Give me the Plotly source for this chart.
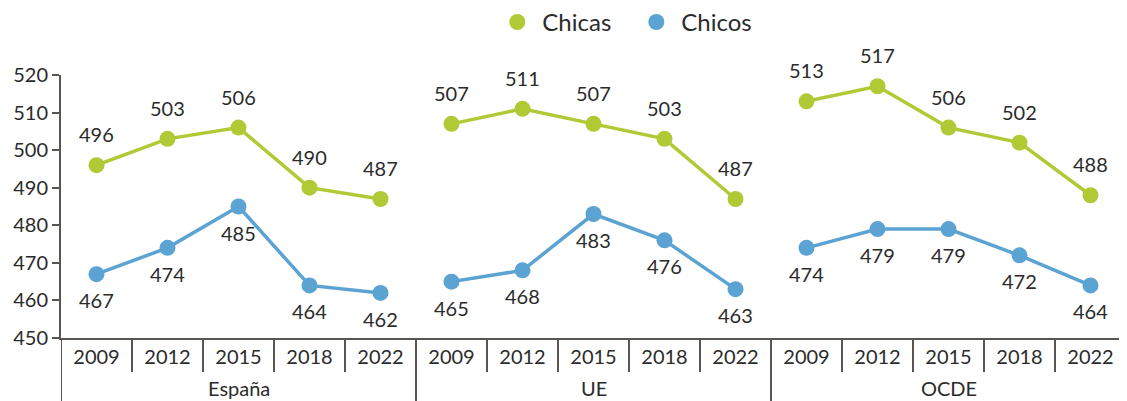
import plotly.graph_objects as go

groups = ["España", "UE", "OCDE"]
years = ["2009", "2012", "2015", "2018", "2022"]
chicas = {
    "España": [496, 503, 506, 490, 487],
    "UE": [507, 511, 507, 503, 487],
    "OCDE": [513, 517, 506, 502, 488],
}
chicos = {
    "España": [467, 474, 485, 464, 462],
    "UE": [465, 468, 483, 476, 463],
    "OCDE": [474, 479, 479, 472, 464],
}
y_ticks = [450, 460, 470, 480, 490, 500, 510, 520]

GREEN = "#b0ca35"
BLUE = "#5ba3d2"
AXIS = "#5a5550"
TEXT = "#2b2b2b"
FONT = "Lato"
FS = 20

# the page body has an 8px margin; size the figure so it fills the window exactly
W, H = 1119, 393

fig = go.Figure()
annotations = []
shapes = []

for name, color in [("Chicas", GREEN), ("Chicos", BLUE)]:
    fig.add_trace(go.Scatter(x=[None], y=[None], mode="markers", name=name,
                             marker=dict(color=color, size=17), showlegend=True))

for gi, g in enumerate(groups):
    xs = [gi * len(years) + i for i in range(len(years))]
    for name, data, color, shift in [("Chicas", chicas, GREEN, 31), ("Chicos", chicos, BLUE, -26)]:
        fig.add_trace(go.Scatter(
            x=xs, y=data[g], mode="lines+markers", name=name,
            showlegend=False,
            line=dict(color=color, width=3.5),
            marker=dict(color=color, size=16),
            hoverinfo="skip",
        ))
        for x, v in zip(xs, data[g]):
            annotations.append(dict(x=x, y=v, text=str(v), showarrow=False,
                                    yshift=shift, font=dict(size=FS, color=TEXT, family=FONT)))
    annotations.append(dict(x=gi * len(years) + 2, y=-0.19, yref="paper", text=g,
                            showarrow=False, yanchor="middle",
                            font=dict(size=FS, color=TEXT, family=FONT)))

n = len(groups) * len(years)
plot_h = 338 - 75
for b in range(n + 1):
    xb = b - 0.5
    if b % len(years) == 0:
        y1 = -80 / plot_h
    else:
        y1 = -34 / plot_h
    shapes.append(dict(type="line", xref="x", yref="paper", x0=xb, x1=xb, y0=0, y1=y1,
                       line=dict(color=AXIS, width=2)))

tickvals = list(range(n))
ticktext = years * len(groups)

fig.update_layout(
    width=W, height=H,
    margin=dict(l=53, r=1, t=67, b=63, autoexpand=False),
    paper_bgcolor="white", plot_bgcolor="white",
    font=dict(family=FONT, size=FS, color=TEXT),
    showlegend=True,
    legend=dict(orientation="h", x=0.405, xanchor="left", y=1.2, yanchor="middle",
                font=dict(size=24, color=TEXT, family=FONT), itemwidth=40,
                entrywidth=84, entrywidthmode="pixels",
                tracegroupgap=0, traceorder="normal"),
    xaxis=dict(range=[-0.5, n - 0.5], tickvals=tickvals, ticktext=ticktext, automargin=False,
               showgrid=False, zeroline=False, showline=True, linecolor=AXIS, linewidth=2,
               ticks="", tickfont=dict(size=FS, color=TEXT, family=FONT)),
    yaxis=dict(range=[450, 520], tickvals=y_ticks, showgrid=False, zeroline=False, automargin=False,
               showline=True, linecolor=AXIS, linewidth=2, ticks="outside", ticklen=7,
               tickcolor=AXIS, tickwidth=2, tickfont=dict(size=FS, color=TEXT, family=FONT)),
    annotations=annotations,
    shapes=shapes,
)

fig.write_html("out.html")
